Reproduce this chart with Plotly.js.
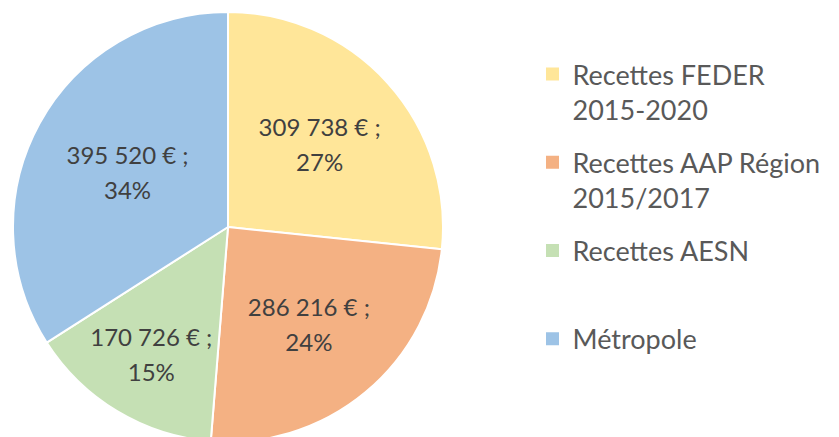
<!DOCTYPE html>
<html>
<head>
<meta charset="utf-8">
<script src="https://cdn.plot.ly/plotly-3.0.1.min.js"></script>
<style>html,body{margin:0;padding:0;background:#fff;overflow:hidden}</style>
</head>
<body>
<div id="chart"></div>
<script>
const categories = ["Recettes FEDER<br>2015-2020", "Recettes AAP Région<br>2015/2017", "Recettes AESN", "Métropole"];
const amounts = [309738, 286216, 170726, 395520];
const amountLabels = ["309 738 €", "286 216 €", "170 726 €", "395 520 €"];
const percentLabels = ["27%", "24%", "15%", "34%"];
const colors = ["#FFE699", "#F4B183", "#C5E0B4", "#9DC3E6"];

const sliceText = amountLabels.map((a, i) => "<span style='font-size:24px'>" + a + " ;<br>" + percentLabels[i] + "</span>");

const W = 839, H = 442;
const cx = 228, cy = 227, r = 215;

const pie = {
  type: "pie",
  labels: categories,
  values: amounts,
  text: sliceText,
  textinfo: "text",
  textposition: "inside",
  insidetextorientation: "horizontal",
  sort: false,
  direction: "clockwise",
  rotation: 0,
  showlegend: false,
  marker: {colors: colors, line: {color: "#ffffff", width: 2}},
  textfont: {family: "Lato", size: 27, color: "#404040"},
  hoverinfo: "label+value+percent",
  domain: {x: [(cx - r) / W, (cx + r) / W], y: [(H - cy - r) / H, (H - cy + r) / H]}
};

// legend entries (one group each so the gap between entries can be set)
const legendTraces = categories.map((c, i) => ({
  type: "scatter", mode: "markers",
  x: [null], y: [null],
  name: c.split("<br>").length < 2 ? c + "<br> " : c,
  legendgroup: "g" + i,
  marker: {symbol: "square", size: 13, color: colors[i]},
  hoverinfo: "skip"
}));

Plotly.newPlot("chart", [pie].concat(legendTraces), {
  width: W, height: H,
  margin: {l: 0, r: 0, t: 0, b: 0},
  paper_bgcolor: "#ffffff",
  plot_bgcolor: "rgba(0,0,0,0)",
  xaxis: {visible: false, domain: [0.99, 1]},
  yaxis: {visible: false, domain: [0.99, 1]},
  uniformtext: {mode: "show", minsize: 27},
  showlegend: true,
  legend: {
    x: (573 - 40.5) / W, y: (H - 50) / H, xanchor: "left", yanchor: "top",
    valign: "top",
    traceorder: "grouped",
    tracegroupgap: 15,
    font: {family: "Lato", size: 27, color: "#595959"},
    bgcolor: "rgba(0,0,0,0)"
  }
}, {displayModeBar: false, staticPlot: true});
</script>
</body>
</html>
